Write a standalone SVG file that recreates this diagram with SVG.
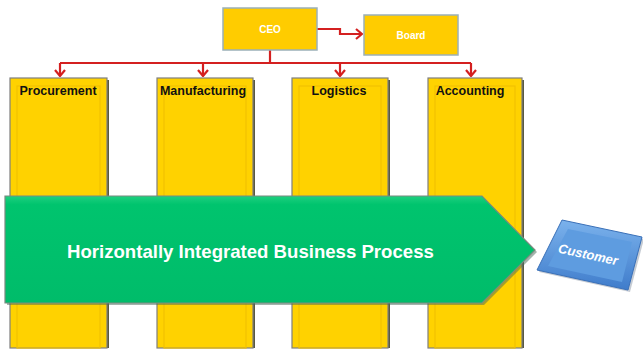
<svg xmlns="http://www.w3.org/2000/svg" width="643" height="349" viewBox="0 0 643 349">
<defs>
<style>
.col{fill:#FFD200;stroke:#7f7f7f;stroke-width:1.2}
.colin{fill:none;stroke:#F2C200;stroke-width:1.2}
.colsh{fill:#5a5a40}
.lbl{font-family:"Liberation Sans",Arial,sans-serif;font-weight:bold;font-size:12.5px;fill:#111;text-anchor:middle}
.box{fill:#FFCC00;stroke:#9bb0b8;stroke-width:1.5}
.wt{font-family:"Liberation Sans",Arial,sans-serif;font-weight:bold;font-size:10px;fill:#fff;text-anchor:middle}
.conn{fill:none;stroke:#D42020;stroke-width:2.2}
</style>
<marker id="ah" viewBox="0 0 12 12" refX="11" refY="6" markerWidth="12" markerHeight="12" orient="0" markerUnits="userSpaceOnUse">
<path d="M5,1 L11,6 L5,11" fill="none" stroke="#D42020" stroke-width="2.2"/>
</marker>
<marker id="ahd" viewBox="0 0 12 12" refX="6" refY="11" markerWidth="12" markerHeight="12" orient="0" markerUnits="userSpaceOnUse">
<path d="M1,5 L6,11 L11,5" fill="none" stroke="#D42020" stroke-width="2.2"/>
</marker>
<linearGradient id="blue" x1="0" y1="0" x2="0" y2="1">
<stop offset="0" stop-color="#7BB2EC"/>
<stop offset="1" stop-color="#3F7CCB"/>
</linearGradient>
<linearGradient id="green" x1="0" y1="0" x2="0" y2="1">
<stop offset="0" stop-color="#1FD07F"/>
<stop offset="0.08" stop-color="#00C46E"/>
<stop offset="1" stop-color="#00BC6A"/>
</linearGradient>
</defs>

<g id="connectors">
<path class="conn" d="M317,29 H340 V34 H362" marker-end="url(#ah)"/>
<path class="conn" d="M270,50 V63"/>
<path class="conn" d="M60,63 H471"/>
<path class="conn" d="M60,63 V76" marker-end="url(#ahd)"/>
<path class="conn" d="M203,63 V76" marker-end="url(#ahd)"/>
<path class="conn" d="M340,63 V76" marker-end="url(#ahd)"/>
<path class="conn" d="M471,63 V76" marker-end="url(#ahd)"/>
</g>

<g id="ceo">
<rect class="box" x="223" y="8" width="94" height="42"/>
<text class="wt" x="270" y="33">CEO</text>
</g>
<g id="board">
<rect class="box" x="364" y="15" width="94" height="40"/>
<text class="wt" x="411" y="39">Board</text>
</g>

<g id="procurement">
<rect class="colsh" x="106" y="80" width="3" height="268"/>
<rect class="col" x="10" y="78" width="97" height="270"/>
<rect class="colin" x="17" y="86" width="83" height="262"/>
<text class="lbl" x="58" y="95">Procurement</text>
</g>
<g id="manufacturing">
<rect class="colsh" x="252" y="80" width="3" height="268"/>
<rect class="col" x="157" y="78" width="96" height="270"/>
<rect class="colin" x="164" y="86" width="82" height="262"/>
<text class="lbl" x="203" y="95">Manufacturing</text>
</g>
<g id="logistics">
<rect class="colsh" x="387" y="80" width="3" height="268"/>
<rect class="col" x="292" y="78" width="96" height="270"/>
<rect class="colin" x="299" y="86" width="82" height="262"/>
<text class="lbl" x="339" y="95">Logistics</text>
</g>
<g id="accounting">
<rect class="colsh" x="521" y="80" width="3" height="268"/>
<rect class="col" x="428" y="78" width="94" height="270"/>
<rect class="colin" x="435" y="86" width="80" height="262"/>
<text class="lbl" x="470" y="95">Accounting</text>
</g>

<g id="process">
<polygon points="7,198 484,198 537,252 484,305 7,305" fill="#4a6a5a" opacity="0.5"/>
<polygon points="5,196 482,196 535,250 482,303 5,303" fill="url(#green)" stroke="#7a8a80" stroke-width="1.2"/>
<text x="67" y="258" font-family="'Liberation Sans',Arial,sans-serif" font-weight="bold" font-size="18.6" fill="#fff">Horizontally Integrated Business Process</text>
</g>

<g id="customer">
<polygon points="564,222 644,239 630,292 539,272" fill="#5a6a80" opacity="0.35"/>
<polygon points="562,220 642,237 628,290 537,270" fill="url(#blue)" stroke="#3a70b8" stroke-width="1"/>
<polygon points="568,229 632,242 622,282 548,266" fill="#5E9CE0"/>
<text x="588" y="259" transform="rotate(12 588 255)" font-family="'Liberation Sans Narrow','Liberation Sans',Arial,sans-serif" font-style="italic" font-weight="bold" font-size="13" fill="#fff" text-anchor="middle">Customer</text>
</g>
</svg>
